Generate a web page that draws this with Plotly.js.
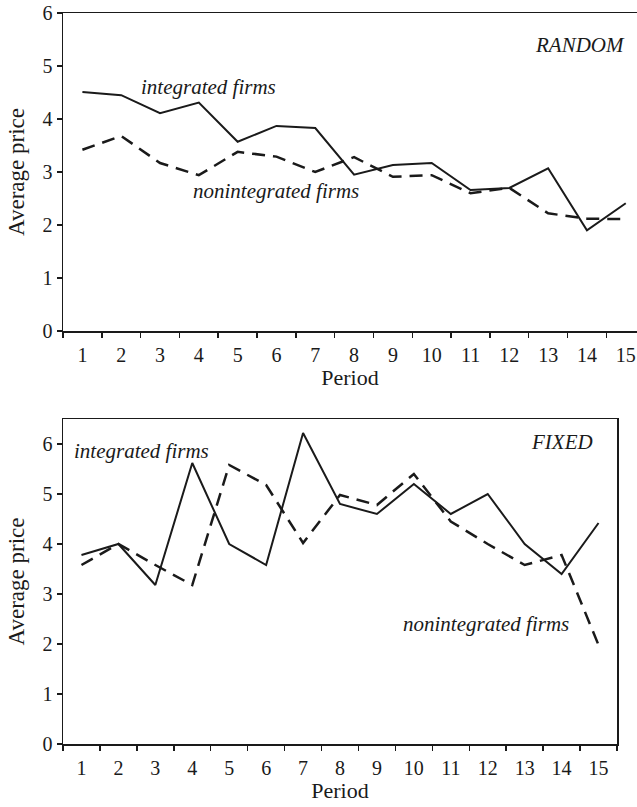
<!DOCTYPE html>
<html>
<head>
<meta charset="utf-8">
<script src="https://cdn.plot.ly/plotly-3.0.1.min.js"></script>
<style>html,body{margin:0;padding:0;background:#fff;}#chart{width:637px;height:807px;}</style>
</head>
<body>
<div id="chart"></div>
<script>
const periods = [1, 2, 3, 4, 5, 6, 7, 8, 9, 10, 11, 12, 13, 14, 15];
const periodLabels = ["1","2","3","4","5","6","7","8","9","10","11","12","13","14","15"];
const randomIntegrated = [4.51, 4.45, 4.11, 4.31, 3.57, 3.87, 3.83, 2.95, 3.13, 3.17, 2.66, 2.7, 3.07, 1.9, 2.41];
const randomNonintegrated = [3.42, 3.68, 3.17, 2.94, 3.38, 3.29, 3.0, 3.28, 2.91, 2.94, 2.6, 2.7, 2.22, 2.12, 2.11];
const fixedIntegrated = [3.78, 4.0, 3.18, 5.62, 4.0, 3.58, 6.22, 4.8, 4.6, 5.2, 4.6, 5.0, 4.0, 3.4, 4.42];
const fixedNonintegrated = [3.58, 4.0, 3.58, 3.18, 5.58, 5.18, 4.02, 4.98, 4.78, 5.4, 4.45, 4.0, 3.58, 3.78, 1.98];

const FONT = "Liberation Serif, Times New Roman, serif";
const ink = "#1a1a1a";
const solid = {color: ink, width: 2};
const dashed = {color: ink, width: 2.5, dash: "13px,8px"};

const traces = [
  {x: periods, y: randomIntegrated, xaxis: "x", yaxis: "y", mode: "lines", line: solid, name: "integrated firms"},
  {x: periods, y: randomNonintegrated, xaxis: "x", yaxis: "y", mode: "lines", line: dashed, name: "nonintegrated firms"},
  {x: periods, y: fixedIntegrated, xaxis: "x2", yaxis: "y2", mode: "lines", line: solid, name: "integrated firms"},
  {x: periods, y: fixedNonintegrated, xaxis: "x2", yaxis: "y2", mode: "lines", line: dashed, name: "nonintegrated firms"}
];

const W = 637, H = 807;
function xax(range, domain, mirror) {
  return {
    domain: domain, range: range,
    tickmode: "array", tickvals: periods, ticktext: periodLabels,
    ticks: "", ticklabelstandoff: 5,
    minor: {ticks: "outside", ticklen: 5, tickwidth: 1.5, tickcolor: ink, tick0: 0.5, dtick: 1, showgrid: false},
    showline: true, linecolor: ink, linewidth: 1.5, mirror: mirror,
    showgrid: false, zeroline: false, fixedrange: true,
    tickfont: {family: FONT, size: 20, color: ink},
    title: {text: "Period", font: {family: FONT, size: 22, color: ink}, standoff: 3}
  };
}
function yax(range, domain, mirror) {
  return {
    domain: domain, range: range,
    tickmode: "linear", tick0: 0, dtick: 1,
    ticks: "outside", ticklen: 5, tickwidth: 1.5, tickcolor: ink,
    showline: true, linecolor: ink, linewidth: 1.5, mirror: mirror,
    showgrid: false, zeroline: false, fixedrange: true,
    tickfont: {family: FONT, size: 20, color: ink},
    title: {text: "Average price", font: {family: FONT, size: 23, color: ink}, standoff: 11}
  };
}

const x1 = xax([0.5, 15.29], [63 / W, 1], true); x1.anchor = "y";
const y1 = yax([0, 6], [1 - 331 / H, 1 - 13 / H], false); y1.anchor = "x";
const x2 = xax([0.5, 15.5], [63 / W, 617 / W], true); x2.anchor = "y2";
const y2 = yax([0, 6.5], [1 - 744 / H, 1 - 419 / H], true); y2.anchor = "x2";

const annFont = {family: FONT, size: 21, color: ink};
function ann(text, xref, yref, x, y) {
  return {text: text, xref: xref, yref: yref, x: x, y: y, showarrow: false, font: annFont, xanchor: "center", yanchor: "middle"};
}
const annotations = [
  ann("<i>RANDOM</i>", "x", "y", 13.82, 5.4),
  ann("<i>integrated firms</i>", "x", "y", 4.25, 4.6),
  ann("<i>nonintegrated firms</i>", "x", "y", 6.0, 2.65),
  ann("<i>FIXED</i>", "x2", "y2", 14.0, 6.04),
  ann("<i>integrated firms</i>", "x2", "y2", 2.62, 5.86),
  ann("<i>nonintegrated firms</i>", "x2", "y2", 11.95, 2.4)
];

const layout = {
  width: W, height: H,
  margin: {l: 0, r: 0, t: 0, b: 0},
  paper_bgcolor: "#fff", plot_bgcolor: "#fff",
  showlegend: false,
  xaxis: x1, yaxis: y1, xaxis2: x2, yaxis2: y2,
  annotations: annotations,
  font: {family: FONT, color: ink}
};

Plotly.newPlot("chart", traces, layout, {displayModeBar: false, staticPlot: true});
</script>
</body>
</html>
